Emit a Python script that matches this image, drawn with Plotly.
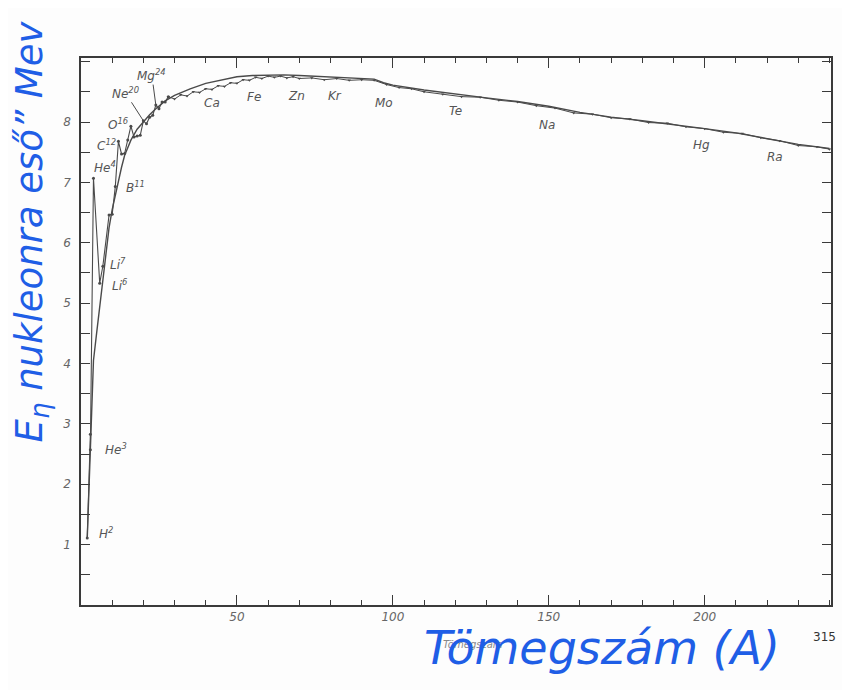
import plotly.graph_objects as go

# Smooth (mean) curve of binding energy per nucleon
curve_A = [2, 3, 4, 5, 6, 7, 8, 9, 10, 11, 12, 13, 14, 16, 18, 20, 22, 24, 27, 30,
           35, 40, 45, 50, 55, 60, 65, 70, 75, 80, 85, 90, 94, 97, 100, 110, 120,
           130, 140, 150, 160, 170, 180, 190, 200, 210, 220, 230, 240]
curve_E = [1.10, 2.60, 4.05, 4.50, 4.95, 5.40, 5.80, 6.25, 6.55, 6.80, 7.05, 7.25,
           7.45, 7.70, 7.88, 8.00, 8.12, 8.22, 8.35, 8.44, 8.55, 8.64, 8.70, 8.75,
           8.77, 8.78, 8.78, 8.77, 8.76, 8.74, 8.73, 8.72, 8.71, 8.65, 8.61, 8.53,
           8.46, 8.40, 8.34, 8.26, 8.16, 8.08, 8.02, 7.96, 7.89, 7.82, 7.72, 7.63, 7.56]

# Individual nuclides (jagged line)
light_A = [2, 3, 3, 4, 6, 7, 9, 10, 11, 12, 13, 14, 15, 16, 17, 18, 19, 20, 21, 22,
           23, 24, 25, 26, 27, 28]
light_E = [1.11, 2.83, 2.57, 7.07, 5.33, 5.61, 6.46, 6.47, 6.93, 7.68, 7.47, 7.48,
           7.70, 7.93, 7.75, 7.77, 7.78, 8.02, 7.97, 8.08, 8.11, 8.28, 8.22, 8.33,
           8.33, 8.42]

heavy_A = [28, 30, 32, 34, 36, 38, 40, 42, 44, 46, 48, 50, 52, 54, 56, 58, 60, 62,
           64, 66, 68, 70, 74, 78, 82, 86, 90, 94, 98, 102, 106, 110, 116, 122, 128,
           134, 140, 146, 152, 158, 164, 170, 176, 182, 188, 194, 200, 206, 212, 218,
           224, 230, 236, 240]
heavy_E = [8.42, 8.38, 8.45, 8.43, 8.50, 8.49, 8.55, 8.54, 8.60, 8.59, 8.65, 8.64,
           8.70, 8.69, 8.74, 8.72, 8.76, 8.74, 8.76, 8.73, 8.75, 8.72, 8.73, 8.70,
           8.72, 8.69, 8.70, 8.69, 8.62, 8.57, 8.55, 8.50, 8.46, 8.42, 8.41, 8.36,
           8.33, 8.27, 8.23, 8.15, 8.13, 8.07, 8.05, 7.99, 7.98, 7.92, 7.89, 7.83,
           7.81, 7.74, 7.69, 7.61, 7.59, 7.55]

# Element labels
elem_text = ["Ca", "Fe", "Zn", "Kr", "Mo", "Te", "Na", "Hg", "Ra"]
elem_A = [42.1, 55.4, 69.1, 81.6, 97.2, 120.2, 149.3, 199.0, 222.4]
elem_E = [8.32, 8.42, 8.43, 8.43, 8.31, 8.18, 7.95, 7.62, 7.42]

iso_text = ["O<sup>16</sup>", "C<sup>12</sup>", "He<sup>4</sup>", "B<sup>11</sup>",
            "Li<sup>7</sup>", "Li<sup>6</sup>", "He<sup>3</sup>", "H<sup>2</sup>"]
iso_A = [12.0, 8.3, 7.6, 17.4, 12.0, 12.4, 11.2, 8.0]
iso_E = [7.97, 7.62, 7.26, 6.92, 5.64, 5.30, 2.58, 1.20]

ink = "#4a4a4a"
blue = "#1f5ee6"

fig = go.Figure()
fig.add_trace(go.Scatter(x=curve_A, y=curve_E, mode="lines",
                         line=dict(color=ink, width=1.4), hoverinfo="skip"))
fig.add_trace(go.Scatter(x=light_A, y=light_E, mode="lines+markers",
                         line=dict(color=ink, width=1.1),
                         marker=dict(color=ink, size=3), hoverinfo="skip"))
fig.add_trace(go.Scatter(x=heavy_A, y=heavy_E, mode="lines+markers",
                         line=dict(color=ink, width=1.0),
                         marker=dict(color=ink, size=3, symbol="triangle-down"),
                         hoverinfo="skip"))

lab_font = dict(family="DejaVu Sans", size=12, color="#555555", style="italic")
for t, a, e in zip(elem_text, elem_A, elem_E):
    fig.add_annotation(x=a, y=e, text=t, showarrow=False, font=lab_font)
for t, a, e in zip(iso_text, iso_A, iso_E):
    fig.add_annotation(x=a, y=e, text=t, showarrow=False, font=lab_font)

# arrowed labels
fig.add_annotation(x=light_A[17], y=light_E[17], text="Ne<sup>20</sup>", ax=-18, ay=-28,
                   showarrow=True, arrowhead=0, arrowwidth=1, arrowcolor=ink, font=lab_font)
fig.add_annotation(x=light_A[21], y=light_E[21], text="Mg<sup>24</sup>", ax=-4, ay=-30,
                   showarrow=True, arrowhead=0, arrowwidth=1, arrowcolor=ink, font=lab_font)

# handwritten-style axis titles
fig.add_annotation(xref="paper", yref="paper", x=-0.066, y=0.682,
                   xanchor="center", yanchor="middle",
                   text="E<sub>η</sub> nukleonra eső\u201d Mev", textangle=-90,
                   showarrow=False, font=dict(family="DejaVu Sans", size=37, color=blue,
                                              style="italic"))
fig.add_annotation(xref="paper", yref="paper", x=0.5226, y=-0.0713,
                   xanchor="center", yanchor="middle", text="Tömegszám",
                   showarrow=False, font=dict(family="DejaVu Sans", size=10, color="#888888",
                                              style="italic"))
fig.add_annotation(xref="paper", yref="paper", x=0.695, y=-0.079,
                   xanchor="center", yanchor="middle", text="Tömegszám (A)",
                   showarrow=False, font=dict(family="DejaVu Sans", size=46, color=blue,
                                              style="italic"))
fig.add_annotation(xref="paper", yref="paper", x=0.991, y=-0.0585,
                   xanchor="center", yanchor="middle", text="315",
                   showarrow=False, font=dict(family="DejaVu Sans", size=12, color="#333333"))

axis_common = dict(showline=True, linecolor="#3a3a3a", linewidth=1.5, mirror="ticks",
                   ticks="inside", tickcolor="#3a3a3a", tickwidth=1, showgrid=False,
                   zeroline=False,
                   tickfont=dict(family="DejaVu Sans", size=12, color="#666666",
                                 style="italic"))

fig.update_xaxes(range=[0, 240.5], tickvals=[50, 100, 150, 200], ticklen=10,
                 minor=dict(tick0=0, dtick=10, ticklen=5, ticks="inside",
                            tickcolor="#3a3a3a"),
                 **axis_common)
fig.update_yaxes(range=[0, 9.06], tickvals=[1, 2, 3, 4, 5, 6, 7, 8], ticklen=9,
                 minor=dict(tick0=0, dtick=0.5, ticklen=9, ticks="inside",
                            tickcolor="#3a3a3a"),
                 ticklabelstandoff=6, **axis_common)

# body margin of the page (8px) is compensated by a smaller figure
fig.update_layout(width=834, height=682, showlegend=False,
                  margin=dict(l=73, r=9, t=50, b=85),
                  paper_bgcolor="#fdfdfd", plot_bgcolor="#fdfdfd")

fig.write_html("out.html")
